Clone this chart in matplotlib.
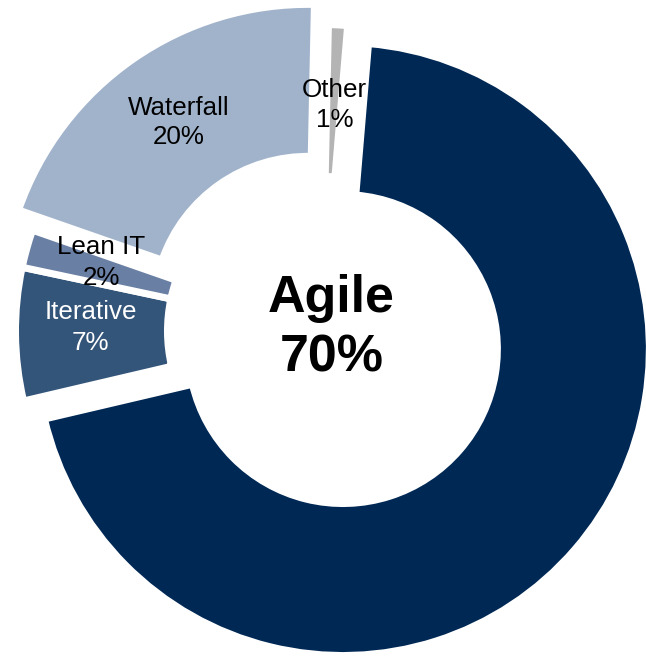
import matplotlib
matplotlib.use("Agg")
import matplotlib.pyplot as plt

categories = ["Agile", "Iterative", "Lean IT", "Waterfall", "Other"]
shares = [70, 7, 2, 20, 1]
colors = ["#002855", "#34557A", "#6A7FA4", "#A1B3CB", "#B4B4B4"]
explode_frac = [0.09, 0, 0, 0.08, 0]
label_colors = ["black", "white", "black", "black", "black"]

W, H = 646, 656
fig = plt.figure(figsize=(W / 100, H / 100), dpi=100)
ax = fig.add_axes([0, 0, 1, 1])

cx, cy = 322, H - 331
R = 306.5
ring = 152
lw_pt = 7 * 72 / 100

# matplotlib's explode offsets are in data units
ax.pie(shares, colors=colors, explode=[e * R for e in explode_frac], startangle=85.2,
       counterclock=False, radius=R, center=(cx, cy),
       wedgeprops=dict(width=ring, edgecolor="white", linewidth=lw_pt))

ax.set_xlim(0, W)
ax.set_ylim(0, H)
ax.set_aspect("equal")
ax.axis("off")

font = ["Liberation Sans", "DejaVu Sans"]
fs = 26 * 72 / 100

# label positions (image pixels: x center, baseline of name line, baseline of % line)
label_pos = {
    "Iterative": (90.5, 319, 350),
    "Lean IT": (101.5, 254, 285),
    "Waterfall": (179, 115, 144),
    "Other": (334.5, 97, 127),
}
for cat, val, col in zip(categories, shares, label_colors):
    if cat == "Agile":
        ax.text(331, H - 312, cat, ha="center", va="baseline",
                fontsize=52 * 72 / 100, fontweight="bold", family=font, color="black")
        ax.text(332, H - 372, f"{val}%", ha="center", va="baseline",
                fontsize=52 * 72 / 100, fontweight="bold", family=font, color="black")
    else:
        x, b1, b2 = label_pos[cat]
        ax.text(x, H - b1, cat, ha="center", va="baseline", fontsize=fs,
                family=font, color=col)
        ax.text(x, H - b2, f"{val}%", ha="center", va="baseline", fontsize=fs,
                family=font, color=col)

fig.savefig("out.png", dpi=100)
